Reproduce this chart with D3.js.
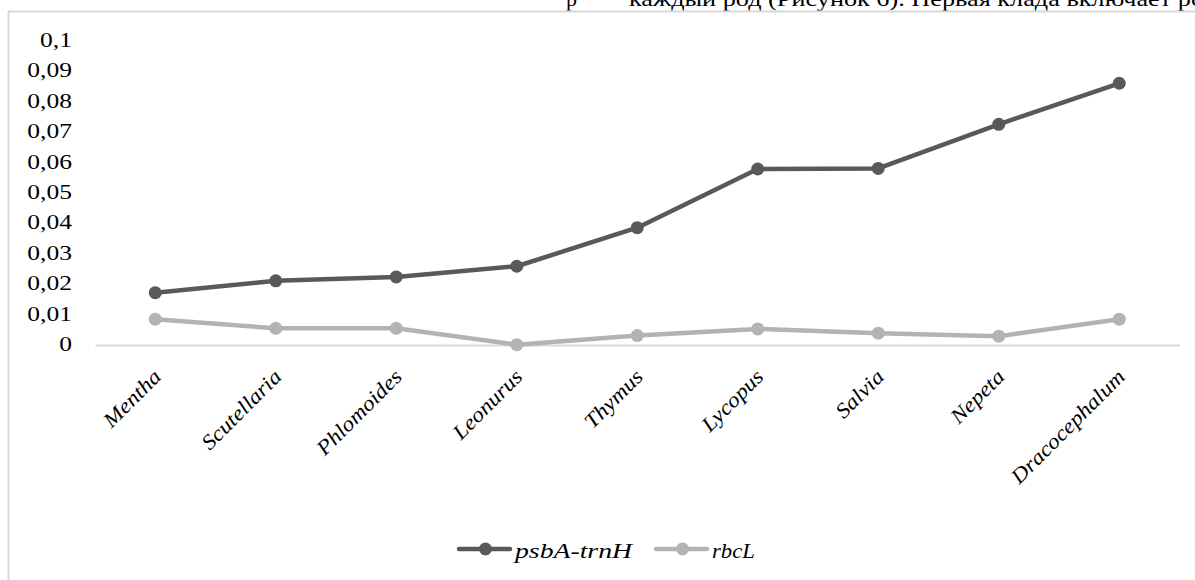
<!DOCTYPE html>
<html>
<head>
<meta charset="utf-8">
<script src="https://cdn.jsdelivr.net/npm/d3@7"></script>
<style>
  html, body { margin: 0; padding: 0; background: #ffffff; }
  svg { display: block; }
  text { font-family: "Liberation Serif", "Times New Roman", serif; fill: #000; }
</style>
</head>
<body>
<svg id="chart" width="1195" height="580"></svg>
<script>
// ---- data ----
const categories = ["Mentha", "Scutellaria", "Phlomoides", "Leonurus", "Thymus", "Lycopus", "Salvia", "Nepeta", "Dracocephalum"];
const psbA_trnH = [0.0172, 0.0211, 0.0224, 0.0259, 0.0386, 0.0579, 0.0581, 0.0726, 0.0861];
const rbcL = [0.0085, 0.0055, 0.0055, 0.0001, 0.0031, 0.0053, 0.0039, 0.0029, 0.0085];
const seriesNames = ["psbA-trnH", "rbcL"];
const yTickValues = [0, 0.01, 0.02, 0.03, 0.04, 0.05, 0.06, 0.07, 0.08, 0.09, 0.1];
const yTickLabels = ["0", "0,01", "0,02", "0,03", "0,04", "0,05", "0,06", "0,07", "0,08", "0,09", "0,1"];
const bgText = "каждый род (Рисунок 6). Первая клада включает ро";

const svg = d3.select("#chart");

// background document text (cropped above chart frame, as in the reference)
svg.append("text").attr("x", 566).attr("y", 6).style("font-size", "22px").text("р");
svg.append("text").attr("x", 629).attr("y", 6).style("font-size", "22px")
  .attr("textLength", 575).attr("lengthAdjust", "spacingAndGlyphs").text(bgText);

// chart frame
svg.append("rect")
  .attr("x", 8.5).attr("y", 11.5).attr("width", 1300).attr("height", 700)
  .attr("fill", "#ffffff").attr("stroke", "#d9d9d9").attr("stroke-width", 2);

const x = d3.scaleBand().domain(categories).range([95, 1179.5]);
const cx = c => x(c) + x.bandwidth() / 2;
const y = d3.scaleLinear().domain([0, 0.1]).range([345, 41]);

// y axis labels (via axis generator, then restyled)
const yAxis = d3.axisLeft(y).tickValues(yTickValues).tickFormat((d, i) => yTickLabels[i]).tickSize(0).tickPadding(0);
const ya = svg.append("g").attr("transform", "translate(72,0)").call(yAxis);
ya.select(".domain").remove();
ya.selectAll(".tick text")
  .attr("x", null).attr("dy", null)
  .attr("transform", "translate(0,5.5) scale(1.16,1)")
  .attr("text-anchor", "end")
  .style("font-family", "'Liberation Serif', serif")
  .style("font-size", "22px")
  .attr("fill", "#000");

// x axis line (zero line)
const xAxis = d3.axisBottom(x).tickSize(0).tickFormat("");
const xa = svg.append("g").attr("transform", `translate(0,${y(0)})`).call(xAxis);
xa.select(".domain").attr("stroke", "#d9d9d9").attr("stroke-width", 2);

// x labels
svg.append("g").selectAll("text").data(categories).join("text")
  .attr("transform", d => `translate(${cx(d) + 7},${y(0) + 33}) rotate(-45) scale(1.12,1)`)
  .attr("text-anchor", "end")
  .style("font-size", "21px")
  .style("font-style", "italic")
  .text(d => d);

// series
const series = [
  { name: seriesNames[0], values: psbA_trnH, color: "#595959" },
  { name: seriesNames[1], values: rbcL, color: "#b3b3b3" }
];
const line = d3.line().x((d, i) => cx(categories[i])).y(d => y(d));

series.slice().reverse().forEach(s => {
  svg.append("path").datum(s.values)
    .attr("d", line).attr("fill", "none")
    .attr("stroke", s.color).attr("stroke-width", 4.5)
    .attr("stroke-linejoin", "round").attr("stroke-linecap", "round");
  svg.append("g").selectAll("circle").data(s.values).join("circle")
    .attr("cx", (d, i) => cx(categories[i])).attr("cy", d => y(d))
    .attr("r", 6.5).attr("fill", s.color);
});

// legend
const legendItems = [
  { name: seriesNames[0], color: "#595959", x0: 459, tx: 515, tl: 117 },
  { name: seriesNames[1], color: "#b3b3b3", x0: 656, tx: 712, tl: 43 }
];
const ly = 549;
const lg = svg.append("g");
legendItems.forEach(it => {
  lg.append("line").attr("x1", it.x0).attr("x2", it.x0 + 51).attr("y1", ly).attr("y2", ly)
    .attr("stroke", it.color).attr("stroke-width", 4.5).attr("stroke-linecap", "round");
  lg.append("circle").attr("cx", it.x0 + 26.5).attr("cy", ly).attr("r", 6.5).attr("fill", it.color);
  lg.append("text").attr("x", it.tx).attr("y", ly + 9)
    .style("font-size", "22px").style("font-style", "italic")
    .attr("textLength", it.tl).attr("lengthAdjust", "spacingAndGlyphs")
    .text(it.name);
});
</script>
</body>
</html>
